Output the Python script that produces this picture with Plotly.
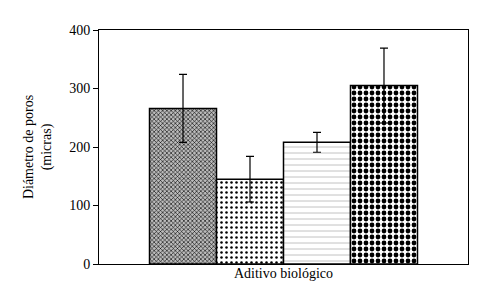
import plotly.graph_objects as go

categories = ["A", "B", "C", "D"]
values = [266, 145, 208, 305]
errors = [58, 39, 17, 64]
pattern_shapes = ["x", ".", "-", "."]
pattern_fg = ["#000000", "#000000", "#aaaaaa", "#000000"]
pattern_bg = ["#bbbbbb", "white", "white", "white"]
pattern_size = [3, 5, 6, 6]
pattern_solidity = [0.35, 0.2, 0.12, 0.5]
yticks = [0, 100, 200, 300, 400]

fig = go.Figure()
for i, c in enumerate(categories):
    fig.add_trace(go.Bar(
        x=[i], y=[values[i]], width=1,
        error_y=dict(type="data", array=[errors[i]], color="black", thickness=1.2, width=4),
        marker=dict(color="white", line=dict(color="black", width=1.5),
                    pattern=dict(shape=pattern_shapes[i], fgcolor=pattern_fg[i], bgcolor=pattern_bg[i],
                                 size=pattern_size[i], solidity=pattern_solidity[i],
                                 fillmode="overlay", fgopacity=1)),
        showlegend=False,
    ))

font = dict(family="Liberation Serif", size=14, color="black")
fig.update_layout(
    width=486, height=288,
    margin=dict(l=91, r=26, t=22, b=32),
    plot_bgcolor="white", paper_bgcolor="white",
    font=font,
    xaxis=dict(range=[-1.254, 4.254], showticklabels=False, ticks="", showgrid=False, zeroline=False,
               showline=True, linecolor="black", linewidth=1, mirror=True,
               title=dict(text="Aditivo biológico", standoff=4, font=font)),
    yaxis=dict(range=[0, 400], tickvals=yticks, ticks="outside", ticklen=5, tickcolor="black",
               tickfont=font, showgrid=False, zeroline=False, showline=True, linecolor="black",
               linewidth=1, mirror=True,
               title=dict(text="Diámetro de poros<br>(micras)", standoff=14, font=font)),
)
fig.write_html("out.html")
